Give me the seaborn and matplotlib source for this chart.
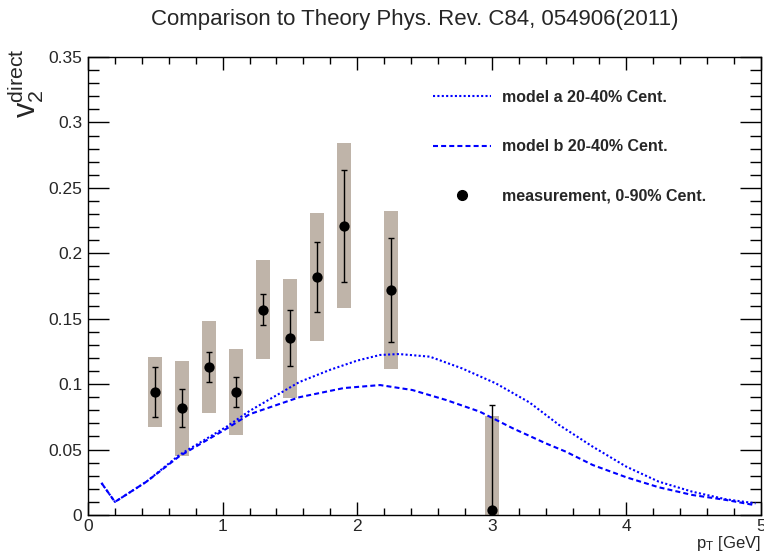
import matplotlib
matplotlib.use("Agg")
import matplotlib.pyplot as plt
import seaborn as sns
import pandas as pd
from matplotlib.lines import Line2D
from matplotlib.ticker import MultipleLocator, FormatStrFormatter

# theory curves
model_a_pt = [0.1, 0.2, 0.435, 0.68, 1.03, 1.2, 1.57, 1.8, 2.0, 2.17, 2.31, 2.54, 2.78,
              3.03, 3.28, 3.5, 3.75, 4.0, 4.24, 4.49, 4.74, 4.96]
model_a_v2 = [0.0245, 0.010, 0.0255, 0.046, 0.0675, 0.0795, 0.1016, 0.111, 0.118, 0.1223,
              0.123, 0.121, 0.112, 0.1006, 0.086, 0.0688, 0.0522, 0.0369, 0.0255, 0.0178,
              0.012, 0.0089]
model_b_pt = [0.1, 0.2, 0.435, 0.68, 1.03, 1.2, 1.57, 1.9, 2.17, 2.41, 2.66, 2.91, 3.155,
              3.4, 3.55, 3.75, 4.0, 4.24, 4.49, 4.74, 4.95]
model_b_v2 = [0.0245, 0.010, 0.0255, 0.045, 0.066, 0.077, 0.090, 0.097, 0.0993, 0.0955,
              0.0879, 0.079, 0.0663, 0.0548, 0.0484, 0.0382, 0.0288, 0.0212, 0.0153,
              0.0115, 0.0076]

# measurement
meas_pt = [0.5, 0.7, 0.9, 1.1, 1.3, 1.5, 1.7, 1.9, 2.25, 3.0]
meas_v2 = [0.094, 0.0815, 0.113, 0.094, 0.157, 0.135, 0.182, 0.221, 0.172, 0.004]
meas_stat = [0.019, 0.0145, 0.0115, 0.0115, 0.012, 0.0215, 0.027, 0.043, 0.040, 0.080]
meas_syst = [0.027, 0.0365, 0.035, 0.033, 0.038, 0.0455, 0.049, 0.063, 0.0605, 0.072]

labels = ["model a 20-40% Cent.", "model b 20-40% Cent.", "measurement, 0-90% Cent."]

sns.set_style("ticks")
plt.rcParams["font.family"] = ["Liberation Sans", "DejaVu Sans"]
plt.rcParams["mathtext.default"] = "regular"

df_a = pd.DataFrame({"pt": model_a_pt, "v2": model_a_v2})
df_b = pd.DataFrame({"pt": model_b_pt, "v2": model_b_v2})
df_m = pd.DataFrame({"pt": meas_pt, "v2": meas_v2, "stat": meas_stat, "syst": meas_syst})

fig = plt.figure(figsize=(7.64, 5.6), dpi=100)
ax = fig.add_axes([88 / 764, 45 / 560, 673 / 764, 458 / 560])

# systematic boxes
ax.bar(df_m["pt"], 2 * df_m["syst"], bottom=df_m["v2"] - df_m["syst"], width=0.104,
       color="#bfb4a9", linewidth=0, zorder=1)

blue = "#0000ff"
dotted = (0, (1, 1.1))
dashed = (0, (2.4, 1.5))
sns.lineplot(data=df_a, x="pt", y="v2", sort=False, estimator=None, color=blue,
             linewidth=1.5, linestyle=dotted, ax=ax, zorder=3)
sns.lineplot(data=df_b, x="pt", y="v2", sort=False, estimator=None, color=blue,
             linewidth=1.5, linestyle=dashed, ax=ax, zorder=3)

ax.errorbar(df_m["pt"], df_m["v2"], yerr=df_m["stat"], fmt="none", ecolor="black",
            elinewidth=1.0, capsize=2.5, capthick=1.0, zorder=4)
sns.scatterplot(data=df_m, x="pt", y="v2", color="black", s=55, edgecolor="black",
                linewidth=0, ax=ax, zorder=5, clip_on=False)

ax.set_xlim(0, 5)
ax.set_ylim(0, 0.35)
ax.xaxis.set_major_locator(MultipleLocator(1))
ax.xaxis.set_minor_locator(MultipleLocator(0.2))
ax.yaxis.set_major_locator(MultipleLocator(0.05))
ax.yaxis.set_minor_locator(MultipleLocator(0.01))
ax.yaxis.set_major_formatter(FormatStrFormatter("%g"))
ax.xaxis.set_major_formatter(FormatStrFormatter("%g"))
ax.tick_params(which="both", direction="in", top=True, right=True, color="black",
               labelsize=12.5, width=1.0)
ax.tick_params(axis="x", which="major", length=9.5, pad=3)
ax.tick_params(axis="x", which="minor", length=4.8)
ax.tick_params(axis="y", which="major", length=15, pad=4)
ax.tick_params(axis="y", which="minor", length=8)
for sp in ax.spines.values():
    sp.set_color("black")
    sp.set_linewidth(1.0)

ax.set_xlabel("$p_{T}$ [GeV]", fontsize=12, loc="right", labelpad=0)
ax.set_ylabel("$v_{2}^{direct}$", fontsize=22, loc="top")
ax.yaxis.set_label_coords(-0.062, 1.018)

fig.text(415 / 764, 1 - 25 / 560, "Comparison to Theory Phys. Rev. C84, 054906(2011)",
         ha="center", va="baseline", fontsize=16)

handles = [
    Line2D([], [], color=blue, linewidth=1.5, linestyle=dotted),
    Line2D([], [], color=blue, linewidth=1.5, linestyle=dashed),
    Line2D([], [], color="black", marker="o", markersize=7, linestyle="none"),
]
leg = fig.legend(handles, labels, loc="upper left", bbox_to_anchor=(433 / 764, 1 - 90 / 560),
                 frameon=False, borderpad=0, borderaxespad=0, handlelength=3.6,
                 handletextpad=0.7, labelspacing=2.15, prop={"weight": "bold", "size": 11.5})

fig.savefig("out.png", dpi=100, facecolor="white")
